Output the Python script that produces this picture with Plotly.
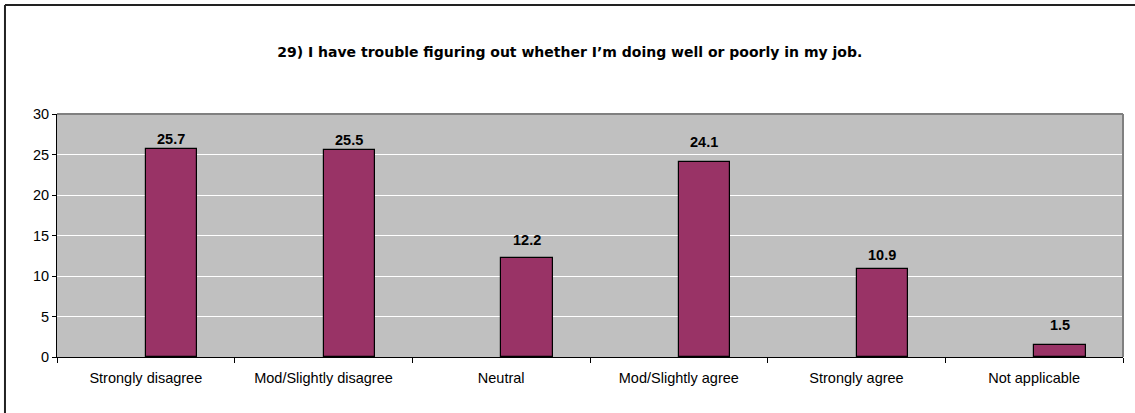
import plotly.graph_objects as go

# survey answers, percent of respondents
categories = ["Strongly disagree", "Mod/Slightly disagree", "Neutral",
              "Mod/Slightly agree", "Strongly agree", "Not applicable"]
percent = [25.7, 25.5, 12.2, 24.1, 10.9, 1.5]
label_texts = ["25.7", "25.5", "12.2", "24.1", "10.9", "1.5"]
# how far each value label sits above its bar (px), as placed in the original
label_gap = [10, 10, 18, 20, 14, 20]

title = "29) I have trouble figuring out whether I’m doing well or poorly in my job."
font_family = "Arial, Liberation Sans, sans-serif"

fig = go.Figure()
fig.add_trace(go.Bar(
    x=categories,
    y=percent,
    offset=0,
    width=0.29,
    marker=dict(color="#993366", line=dict(color="black", width=1.2)),
    showlegend=False,
    hoverinfo="x+y",
))

for cat, val, txt, gap in zip(categories, percent, label_texts, label_gap):
    fig.add_annotation(
        x=cat, y=val, text="<b>%s</b>" % txt, showarrow=False,
        xshift=25.5, yshift=gap, yanchor="middle",
        font=dict(family=font_family, size=14.5, color="black"),
    )

# plot area frame (grey top/right) and the outer chart border (top/left only visible)
fig.add_shape(type="line", xref="paper", yref="paper", x0=0, x1=1, y0=1, y1=1,
              line=dict(color="#808080", width=2))
fig.add_shape(type="line", xref="paper", yref="paper", x0=1, x1=1, y0=0, y1=1,
              line=dict(color="#808080", width=2))
fig.add_shape(type="line", xref="paper", yref="paper", x0=-0.0488, x1=1.0113,
              y0=1.4486, y1=1.4486, line=dict(color="#222222", width=2))
fig.add_shape(type="line", xref="paper", yref="paper", x0=-0.0488, x1=-0.0488,
              y0=1.4486, y1=-0.235, line=dict(color="#222222", width=2))

fig.update_layout(
    width=1135, height=413,
    margin=dict(l=57, r=12, t=114, b=56),
    paper_bgcolor="white",
    plot_bgcolor="#C0C0C0",
    font=dict(family=font_family, size=14.5, color="black"),
    title=dict(text="<b>%s</b>" % title, x=0.502, xanchor="center",
               y=0.874, yanchor="middle",
               font=dict(family="DejaVu Sans, sans-serif", size=14, color="black")),
    bargap=0,
)

fig.update_xaxes(
    type="category", range=[-0.5, 5.5],
    showline=True, linecolor="black", linewidth=1,
    ticks="outside", tickson="boundaries", ticklen=5, tickcolor="black",
    ticklabelstandoff=8,
    showgrid=False, fixedrange=True,
)
fig.update_yaxes(
    range=[0, 30], dtick=5,
    showline=True, linecolor="black", linewidth=1,
    ticks="outside", ticklen=4, tickcolor="black",
    showgrid=True, gridcolor="white", gridwidth=1,
    zeroline=False, fixedrange=True,
)

# the page body has a default 8px margin and may scroll; drop both so the chart fills the window
fig.write_html("out.html", config={"displayModeBar": False},
               post_script="document.body.style.margin='0';document.body.style.overflow='hidden';")
